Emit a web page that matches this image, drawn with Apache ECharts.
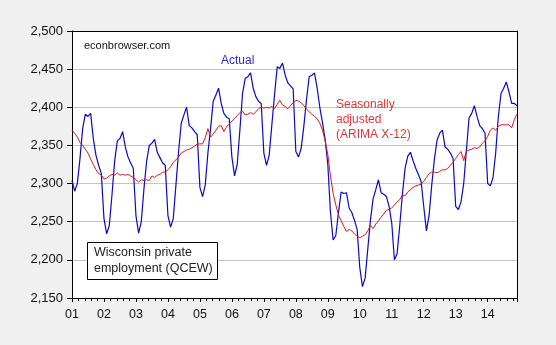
<!DOCTYPE html>
<html>
<head>
<meta charset="utf-8">
<script src="https://cdn.jsdelivr.net/npm/echarts@6/dist/echarts.min.js"></script>
<style>
  html, body { margin: 0; padding: 0; background: #f0f0f0; }
  #chart { width: 556px; height: 345px; }
</style>
</head>
<body>
<div id="chart"></div>
<script>
// Wisconsin private employment (QCEW), thousands, monthly Jan 2001 - Dec 2014
const yearLabels = ['01', '02', '03', '04', '05', '06', '07', '08', '09', '10', '11', '12', '13', '14'];

// Not seasonally adjusted
const actual = [
  2304, 2290, 2300, 2333, 2372, 2391, 2388, 2392, 2359, 2337, 2324, 2313, // 2001
  2254, 2234, 2245, 2285, 2329, 2356, 2359, 2368, 2348, 2335, 2327, 2320, // 2002
  2258, 2235, 2250, 2293, 2329, 2350, 2353, 2358, 2341, 2334, 2327, 2324, // 2003
  2258, 2243, 2254, 2298, 2342, 2379, 2390, 2400, 2376, 2373, 2368, 2364, // 2004
  2295, 2283, 2298, 2340, 2372, 2408, 2416, 2425, 2405, 2392, 2387, 2385, // 2005
  2335, 2310, 2325, 2370, 2418, 2438, 2440, 2445, 2425, 2414, 2408, 2405, // 2006
  2340, 2324, 2337, 2377, 2416, 2453, 2451, 2458, 2442, 2432, 2428, 2424, // 2007
  2342, 2335, 2346, 2375, 2410, 2440, 2442, 2445, 2425, 2400, 2380, 2358, // 2008
  2325, 2262, 2226, 2232, 2262, 2289, 2287, 2288, 2268, 2262, 2252, 2240, // 2009
  2190, 2165, 2176, 2214, 2252, 2280, 2292, 2305, 2288, 2286, 2283, 2270, // 2010
  2248, 2200, 2208, 2245, 2286, 2320, 2336, 2341, 2330, 2320, 2312, 2303, // 2011
  2270, 2238, 2258, 2298, 2332, 2357, 2366, 2370, 2348, 2345, 2340, 2333, // 2012
  2270, 2266, 2276, 2300, 2343, 2386, 2392, 2402, 2388, 2376, 2372, 2366, // 2013
  2300, 2297, 2308, 2340, 2388, 2418, 2425, 2433, 2420, 2405, 2405, 2402  // 2014
];

// Seasonally adjusted (ARIMA X-12)
const adjusted = [
  2370, 2366, 2361, 2354, 2350, 2345, 2340, 2332, 2325, 2318, 2313, 2311, // 2001
  2306, 2307, 2310, 2312, 2311, 2314, 2311, 2312, 2311, 2312, 2310, 2308, // 2002
  2305, 2302, 2305, 2304, 2305, 2304, 2310, 2308, 2311, 2312, 2315, 2315, // 2003
  2318, 2322, 2328, 2331, 2335, 2340, 2342, 2344, 2345, 2347, 2349, 2352, // 2004
  2352, 2352, 2360, 2372, 2361, 2365, 2370, 2375, 2376, 2368, 2374, 2378, // 2005
  2382, 2385, 2389, 2393, 2395, 2390, 2391, 2393, 2391, 2394, 2398, 2400, // 2006
  2399, 2400, 2399, 2401, 2398, 2404, 2409, 2403, 2401, 2398, 2402, 2406, // 2007
  2409, 2408, 2406, 2402, 2398, 2394, 2391, 2388, 2385, 2379, 2370, 2356, // 2008
  2338, 2310, 2287, 2272, 2259, 2251, 2244, 2237, 2240, 2238, 2234, 2231, // 2009
  2229, 2231, 2233, 2238, 2245, 2241, 2247, 2251, 2256, 2260, 2265, 2266, // 2010
  2268, 2272, 2276, 2279, 2285, 2284, 2289, 2292, 2295, 2297, 2298, 2299, // 2011
  2303, 2308, 2313, 2315, 2315, 2314, 2316, 2318, 2318, 2320, 2324, 2328, // 2012
  2333, 2338, 2342, 2330, 2343, 2344, 2345, 2347, 2346, 2348, 2353, 2356, // 2013
  2362, 2370, 2373, 2370, 2375, 2377, 2377, 2377, 2377, 2373, 2384, 2391  // 2014
];

const FONT = '"Liberation Sans", Arial, sans-serif';
const chart = echarts.init(document.getElementById('chart'), null, { renderer: 'canvas' });

const monthMax = actual.length - 1;
// Plain axis lines used to close the frame on the top and right sides
const frameAxis = {
  axisLine: { show: true, onZero: false, lineStyle: { color: '#000', width: 1 } },
  axisTick: { show: false },
  axisLabel: { show: false },
  splitLine: { show: false }
};

chart.setOption({
  animation: false,
  backgroundColor: '#f0f0f0',
  grid: {
    left: 72, top: 31, width: 445, height: 267,
    show: true, backgroundColor: '#ffffff', borderWidth: 0
  },
  xAxis: [
    {
      type: 'value',
      position: 'bottom',
      min: 0,
      max: monthMax,
      interval: 12,
      axisLine: { show: true, onZero: false, lineStyle: { color: '#000', width: 1 } },
      axisTick: { show: true, length: 4, lineStyle: { color: '#000' } },
      minorTick: { show: true, splitNumber: 5, length: 3, lineStyle: { color: '#000' } },
      splitLine: { show: false },
      axisLabel: {
        color: '#111', fontFamily: FONT, fontSize: 12.5, margin: 10,
        showMaxLabel: false,
        formatter: v => (v % 12 === 0 && yearLabels[v / 12]) ? yearLabels[v / 12] : ''
      }
    },
    Object.assign({ type: 'value', position: 'top', min: 0, max: monthMax }, frameAxis)
  ],
  yAxis: [
    {
      type: 'value',
      position: 'left',
      min: 2150,
      max: 2500,
      interval: 50,
      axisLine: { show: true, onZero: false, lineStyle: { color: '#000', width: 1 } },
      axisTick: { show: true, length: 5, lineStyle: { color: '#000' } },
      splitLine: { show: true, lineStyle: { color: '#c4c4c4', width: 1 } },
      axisLabel: {
        color: '#111', fontFamily: FONT, fontSize: 13, margin: 9,
        formatter: v => v.toLocaleString('en-US')
      }
    },
    Object.assign({ type: 'value', position: 'right', min: 2150, max: 2500 }, frameAxis)
  ],
  series: [
    {
      name: 'Actual',
      type: 'line',
      showSymbol: false,
      data: actual.map((v, i) => [i, v]),
      lineStyle: { color: '#0a0ac0', width: 1.2 },
      z: 2
    },
    {
      name: 'Seasonally adjusted',
      type: 'line',
      showSymbol: false,
      data: adjusted.map((v, i) => [i, v]),
      lineStyle: { color: '#d41c1c', width: 1 },
      z: 3
    }
  ],
  graphic: [
    {
      type: 'text', left: 84, top: 40, z: 10,
      style: { text: 'econbrowser.com', fontFamily: FONT, fontSize: 11, fill: '#111' }
    },
    {
      type: 'text', left: 221, top: 55, z: 10,
      style: { text: 'Actual', fontFamily: FONT, fontSize: 12, fill: '#2a2ad6' }
    },
    {
      type: 'text', left: 336, top: 97, z: 10,
      style: {
        text: 'Seasonally\nadjusted\n(ARIMA X-12)',
        fontFamily: FONT, fontSize: 12, lineHeight: 15, fill: '#dc3a3a'
      }
    },
    {
      type: 'rect', z: 10,
      shape: { x: 87.5, y: 242.5, width: 130, height: 37 },
      style: { fill: '#ffffff', stroke: '#000000', lineWidth: 1 }
    },
    {
      type: 'text', left: 94, top: 245, z: 11,
      style: {
        text: 'Wisconsin private\nemployment (QCEW)',
        fontFamily: FONT, fontSize: 12.5, lineHeight: 15.5, fill: '#222'
      }
    }
  ]
});
</script>
</body>
</html>
